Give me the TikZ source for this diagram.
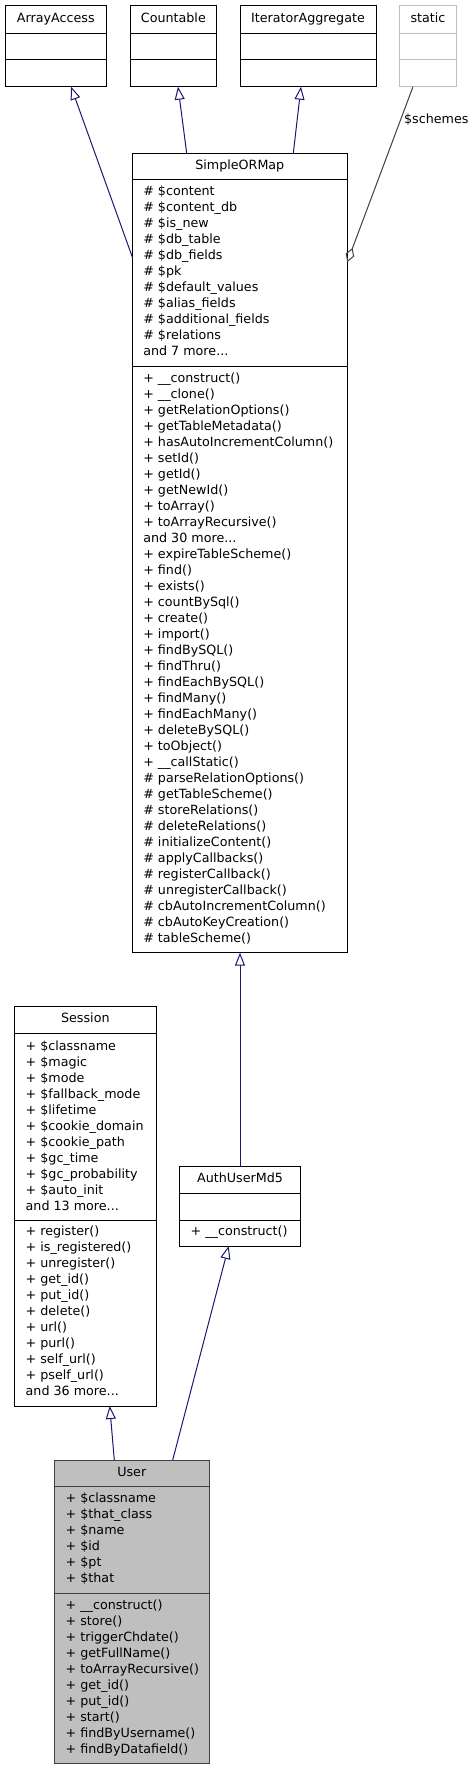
\documentclass[tikz,border=0pt]{standalone}
\usepackage{fontspec}
\setmainfont{DejaVu Sans}
\usetikzlibrary{arrows.meta}
\definecolor{edgeblue}{RGB}{25,25,112}
\definecolor{edgegray}{RGB}{64,64,64}
\definecolor{lightgr}{RGB}{191,191,191}
\newcommand\dvfont{\fontsize{12.7}{16}\selectfont}
\tikzset{
  cls/.style={draw=black, line width=1pt, fill=white, inner sep=0pt, outer sep=0pt, anchor=north west},
  div/.style={draw=black, line width=1pt},
  txt/.style={inner sep=0pt, outer sep=0pt, anchor=base west, font=\dvfont},
  hdr/.style={inner sep=0pt, outer sep=0pt, anchor=base, font=\dvfont},
  inh/.style={draw=edgeblue, line width=1pt, -{Triangle[open,length=13pt,width=10pt]}},
  agg/.style={draw=edgegray, line width=1pt, -{Diamond[open,length=15pt,width=9pt]}},
}
\begin{document}
\begin{tikzpicture}[x=1pt,y=-1pt]
\useasboundingbox[fill=white] (0,0) rectangle (476,1771);

% ---- top interfaces ----
\node[cls, minimum width=101.7pt, minimum height=80.7pt] (aa) at (5,6) {};
\draw[div] ([yshift=-27.3pt]aa.north west) -- ([yshift=-27.3pt]aa.north east);
\draw[div] ([yshift=-54pt]aa.north west) -- ([yshift=-54pt]aa.north east);
\node[hdr] (aa-h) at (55.8,23) {ArrayAccess};

\node[cls, minimum width=86.7pt, minimum height=80.7pt] (cnt) at (130,6) {};
\draw[div] ([yshift=-27.3pt]cnt.north west) -- ([yshift=-27.3pt]cnt.north east);
\draw[div] ([yshift=-54pt]cnt.north west) -- ([yshift=-54pt]cnt.north east);
\node[hdr] (cnt-h) at (173.35,23) {Countable};

\node[cls, minimum width=136pt, minimum height=80.7pt] (ita) at (240,6) {};
\draw[div] ([yshift=-27.3pt]ita.north west) -- ([yshift=-27.3pt]ita.north east);
\draw[div] ([yshift=-54pt]ita.north west) -- ([yshift=-54pt]ita.north east);
\node[hdr] (ita-h) at (308,23) {IteratorAggregate};

\node[cls, draw=lightgr, minimum width=57.4pt, minimum height=80.7pt] (st) at (399.3,6) {};
\draw[div, draw=lightgr] ([yshift=-27.3pt]st.north west) -- ([yshift=-27.3pt]st.north east);
\draw[div, draw=lightgr] ([yshift=-54pt]st.north west) -- ([yshift=-54pt]st.north east);
\node[hdr] (st-h) at (428,23) {static};

% ---- SimpleORMap ----
\node[cls, minimum width=215pt, minimum height=799.4pt] (som) at (132.3,153.3) {};
\draw[div] ([yshift=-26.7pt]som.north west) -- ([yshift=-26.7pt]som.north east);
\draw[div] ([yshift=-213.4pt]som.north west) -- ([yshift=-213.4pt]som.north east);
\node[hdr] (som-h) at (239.8,169.5) {SimpleORMap};
\foreach \t [count=\i from 0] in {
  \# \$content, \# \$content\_db, \# \$is\_new, \# \$db\_table, \# \$db\_fields,
  \# \$pk, \# \$default\_values, \# \$alias\_fields, \# \$additional\_fields,
  \# \$relations, and 7 more.{}.{}.}
  \node[txt] (som-a\i) at (143.3,{195.8+16*\i}) {\t};
\foreach \t [count=\i from 0] in {
  + \_\_construct(), + \_\_clone(), + getRelationOptions(), + getTableMetadata(),
  + hasAutoIncrementColumn(), + setId(), + getId(), + getNewId(), + toArray(),
  + toArrayRecursive(), and 30 more.{}.{}., + expireTableScheme(), + find(),
  + exists(), + countBySql(), + create(), + import(), + findBySQL(), + findThru(),
  + findEachBySQL(), + findMany(), + findEachMany(), + deleteBySQL(), + toObject(),
  + \_\_callStatic(), \# parseRelationOptions(), \# getTableScheme(),
  \# storeRelations(), \# deleteRelations(), \# initializeContent(),
  \# applyCallbacks(), \# registerCallback(), \# unregisterCallback(),
  \# cbAutoIncrementColumn(), \# cbAutoKeyCreation(), \# tableScheme()}
  \node[txt] (som-m\i) at (143.3,{382.8+16*\i}) {\t};

% ---- Session ----
\node[cls, minimum width=141.3pt, minimum height=399.3pt] (ses) at (14.7,1006.7) {};
\draw[div] ([yshift=-26.6pt]ses.north west) -- ([yshift=-26.6pt]ses.north east);
\draw[div] ([yshift=-213.3pt]ses.north west) -- ([yshift=-213.3pt]ses.north east);
\node[hdr] (ses-h) at (85.35,1022.8) {Session};
\foreach \t [count=\i from 0] in {
  + \$classname, + \$magic, + \$mode, + \$fallback\_mode, + \$lifetime,
  + \$cookie\_domain, + \$cookie\_path, + \$gc\_time, + \$gc\_probability,
  + \$auto\_init, and 13 more.{}.{}.}
  \node[txt] (ses-a\i) at (25.7,{1050.2+16*\i}) {\t};
\foreach \t [count=\i from 0] in {
  + register(), + is\_registered(), + unregister(), + get\_id(), + put\_id(),
  + delete(), + url(), + purl(), + self\_url(), + pself\_url(), and 36 more.{}.{}.}
  \node[txt] (ses-m\i) at (25.7,{1235.8+16*\i}) {\t};

% ---- AuthUserMd5 ----
\node[cls, minimum width=121.4pt, minimum height=79.3pt] (aum) at (179.3,1166.7) {};
\draw[div] ([yshift=-26.6pt]aum.north west) -- ([yshift=-26.6pt]aum.north east);
\draw[div] ([yshift=-53.3pt]aum.north west) -- ([yshift=-53.3pt]aum.north east);
\node[hdr] (aum-h) at (240,1182.8) {AuthUserMd5};
\node[txt] (aum-m0) at (190.7,1235.8) {+ \_\_construct()};

% ---- User ----
\node[cls, draw=edgegray, fill=lightgr, minimum width=155pt, minimum height=303.3pt] (usr) at (54.3,1460) {};
\draw[div, draw=edgegray] ([yshift=-26pt]usr.north west) -- ([yshift=-26pt]usr.north east);
\draw[div, draw=edgegray] ([yshift=-133.3pt]usr.north west) -- ([yshift=-133.3pt]usr.north east);
\node[hdr] (usr-h) at (131.8,1476.2) {User};
\foreach \t [count=\i from 0] in {
  + \$classname, + \$that\_class, + \$name, + \$id, + \$pt, + \$that}
  \node[txt] (usr-a\i) at (65.7,{1502.8+16*\i}) {\t};
\foreach \t [count=\i from 0] in {
  + \_\_construct(), + store(), + triggerChdate(), + getFullName(),
  + toArrayRecursive(), + get\_id(), + put\_id(), + start(),
  + findByUsername(), + findByDatafield()}
  \node[txt] (usr-m\i) at (65.7,{1609.5+16*\i}) {\t};

% ---- connectors ----
\draw[inh] ([yshift=-103.7pt]som.north west) -- ([xshift=15.2pt]aa.south);
\draw[inh] ([xshift=54.4pt]som.north west) -- ([xshift=4.65pt]cnt.south);
\draw[inh] ([xshift=161pt]som.north west) -- ([xshift=-7pt]ita.south);
\draw[agg] ([xshift=-15pt]st.south) -- ([yshift=-108.7pt]som.north east);
\node[inner sep=0pt, font=\dvfont] (schemes) at (436.3,119.3) {\$schemes};
\draw[inh] (aum.north) -- (aum.north |- som.south);
\draw[inh] ([xshift=-17.5pt]usr.north) -- ([xshift=24.35pt]ses.south);
\draw[inh] ([xshift=40.9pt]usr.north) -- ([xshift=-11.3pt]aum.south);
\end{tikzpicture}
\end{document}
